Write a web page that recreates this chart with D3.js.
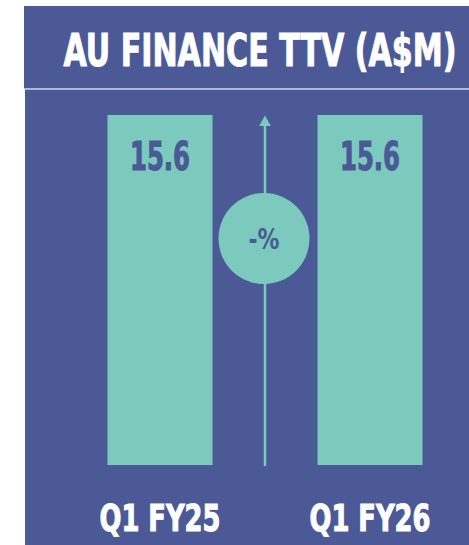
<!DOCTYPE html>
<html><head><meta charset="utf-8">
<script src="https://cdn.jsdelivr.net/npm/d3@7"></script>
<style>html,body{margin:0;padding:0;background:#fff;}svg{display:block;}</style>
</head><body>
<svg id="c" width="469" height="545"></svg>
<script>
const title = "AU FINANCE TTV (A$M)";
const categories = ["Q1 FY25", "Q1 FY26"];
const values = [15.6, 15.6];
const changeLabel = "-%";

const W = 469, H = 545;
const bg = "#4b5a96", teal = "#7bcabd";
const font = "'DejaVu Sans Condensed','Liberation Sans Narrow','Liberation Sans',sans-serif";
const svg = d3.select("#c");

// panels
svg.append("rect").attr("x", 24).attr("y", 6).attr("width", W - 24).attr("height", 82.5).attr("fill", bg);
svg.append("rect").attr("x", 24).attr("y", 88.5).attr("width", W - 24).attr("height", 1.2).attr("fill", "#c8cce0");
svg.append("rect").attr("x", 25).attr("y", 89.7).attr("width", W - 25).attr("height", H - 89.7).attr("fill", bg);

svg.append("text").text(title)
  .attr("x", 260).attr("y", 66).attr("text-anchor", "middle")
  .attr("font-family", font).attr("font-weight", "bold").attr("font-size", 45)
  .attr("fill", "#fff").attr("stroke", "#fff").attr("stroke-width", 1)
  .attr("textLength", 393).attr("lengthAdjust", "spacingAndGlyphs");

const x = d3.scaleBand().domain(categories).range([55, 475]).paddingInner(0.5).paddingOuter(0.25);
const y = d3.scaleLinear().domain([0, 15.6]).range([465, 115]);

svg.selectAll("rect.bar").data(values).join("rect").attr("class", "bar")
  .attr("x", (d, i) => x(categories[i])).attr("width", x.bandwidth())
  .attr("y", d => y(d)).attr("height", d => y(0) - y(d)).attr("fill", teal);

svg.selectAll("text.val").data(values).join("text").attr("class", "val")
  .text(d => d.toFixed(1))
  .attr("x", (d, i) => x(categories[i]) + x.bandwidth() / 2).attr("y", d => y(d) + 54.5)
  .attr("text-anchor", "middle").attr("font-family", font).attr("font-weight", "bold")
  .attr("font-size", 39).attr("fill", bg).attr("stroke", bg).attr("stroke-width", 1.1)
  .attr("textLength", 60).attr("lengthAdjust", "spacingAndGlyphs");

svg.selectAll("text.cat").data(categories).join("text").attr("class", "cat")
  .text(d => d)
  .attr("x", d => x(d) + x.bandwidth() / 2).attr("y", 531)
  .attr("text-anchor", "middle").attr("font-family", font).attr("font-weight", "bold")
  .attr("font-size", 37).attr("fill", "#fff").attr("stroke", "#fff").attr("stroke-width", 1)
  .attr("textLength", 121).attr("lengthAdjust", "spacingAndGlyphs");

// arrow
const ax = (x(categories[0]) + x.bandwidth() + x(categories[1])) / 2;
svg.append("line").attr("x1", ax).attr("x2", ax).attr("y1", 124).attr("y2", 466)
  .attr("stroke", teal).attr("stroke-width", 2.5);
svg.append("path").attr("d", `M${ax},115.5 L${ax + 5.8},126 L${ax - 5.8},126 Z`).attr("fill", teal);

svg.append("circle").attr("cx", ax - 1).attr("cy", 238.5).attr("r", 45.5).attr("fill", teal);
svg.append("text").text(changeLabel)
  .attr("x", ax - 1).attr("y", 249).attr("text-anchor", "middle")
  .attr("font-family", font).attr("font-weight", "bold").attr("font-size", 28)
  .attr("fill", bg).attr("textLength", 31).attr("lengthAdjust", "spacingAndGlyphs");
</script>
</body></html>
